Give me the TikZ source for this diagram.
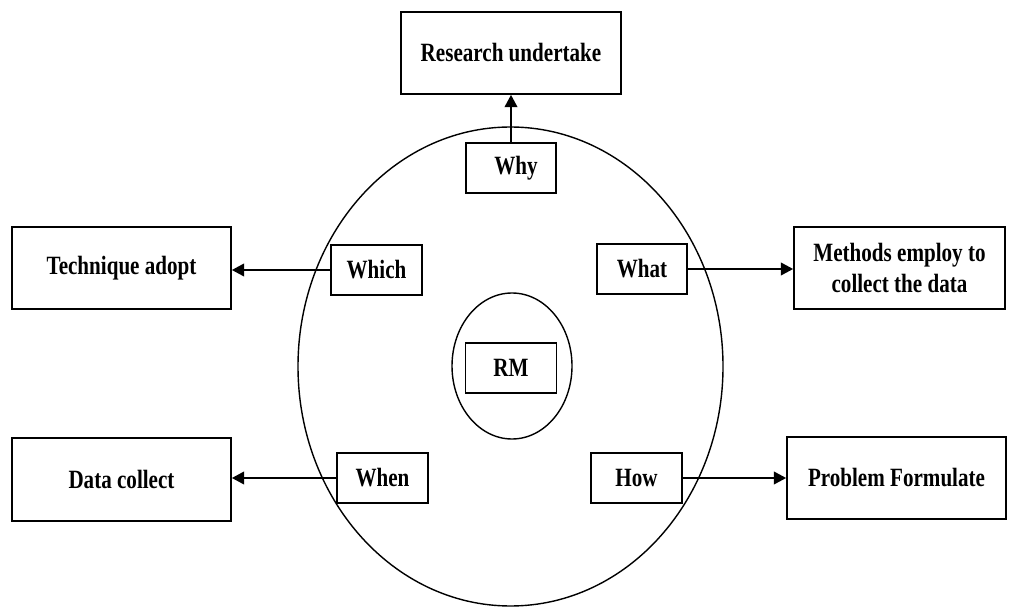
\documentclass[tikz,border=0pt]{standalone}
\usepackage{fontspec}
\setmainfont{Liberation Serif}[FakeStretch=0.8]
\usetikzlibrary{arrows.meta}
\begin{document}
\begin{tikzpicture}[x=0.02cm,y=-0.02cm,
  box/.style={draw,line width=0.9pt,rectangle,inner sep=0pt,align=center,
    font=\fontsize{15}{17.5}\selectfont\bfseries},
  conn/.style={line width=1.5pt,-{Triangle[length=7pt,width=7pt]}},
  ring/.style={line width=0.8pt}]
\useasboundingbox (0,0) rectangle (1010,607);
\draw[ring] (510.5,366.5) ellipse [x radius=212.5, y radius=-239.5];
\draw[ring] (512,366) ellipse [x radius=60, y radius=-73];
\node[box,minimum width=4.4cm,minimum height=1.64cm] (research) at (511,53) {Research undertake};
\node[box,minimum width=1.8cm,minimum height=1cm] (why) at (511,168) {\hspace{0.2cm}Why};
\node[box,minimum width=1.82cm,minimum height=1cm] (which) at (376.5,270) {Which};
\node[box,minimum width=4.38cm,minimum height=1.64cm] (technique) at (121.5,268) {Technique adopt};
\node[box,minimum width=1.8cm,minimum height=1cm] (what) at (642,269) {What};
\node[box,minimum width=4.22cm,minimum height=1.64cm] (methods) at (899.5,268) {Methods employ to\\collect the data};
\node[box,minimum width=1.82cm,minimum height=1cm] (when) at (382.5,478) {When};
\node[box,minimum width=4.38cm,minimum height=1.66cm] (datacollect) at (121.5,479.5) {Data collect};
\node[box,minimum width=1.82cm,minimum height=1cm] (how) at (636.5,478) {How};
\node[box,minimum width=4.38cm,minimum height=1.64cm] (problem) at (896.5,478) {Problem Formulate};
\node[box,minimum width=1.82cm,minimum height=1cm] (rm) at (511,368) {RM};
\draw[conn] (why.north) -- (research.south);
\draw[conn] (which.west) -- (which.west -| technique.east);
\draw[conn] (what.east) -- (what.east -| methods.west);
\draw[conn] (when.west) -- (when.west -| datacollect.east);
\draw[conn] (how.east) -- (how.east -| problem.west);
\end{tikzpicture}
\end{document}
